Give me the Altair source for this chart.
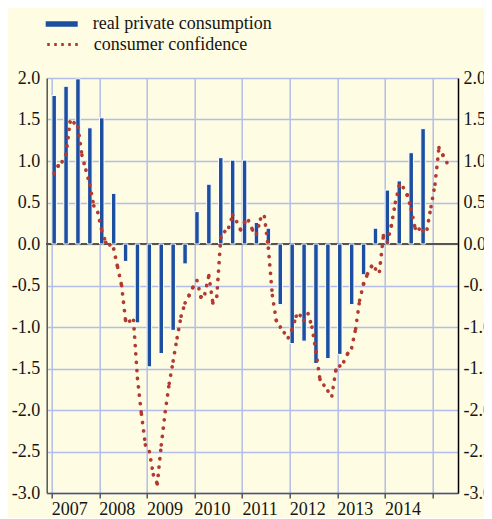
import altair as alt
import pandas as pd

# ---- data ----
years = [2007, 2008, 2009, 2010, 2011, 2012, 2013, 2014, 2015]
y_ticks = [-3.0, -2.5, -2.0, -1.5, -1.0, -0.5, 0.0, 0.5, 1.0, 1.5, 2.0]

# quarterly, 2007Q1 .. 2014Q4
consumption = [
    1.79, 1.90, 1.99, 1.40,
    1.52, 0.61, -0.21, -0.95,
    -1.48, -1.32, -1.04, -0.24,
    0.39, 0.72, 1.04, 1.01,
    1.01, 0.26, 0.19, -0.73,
    -1.20, -1.17, -1.44, -1.38,
    -1.33, -0.73, -0.37, 0.19,
    0.65, 0.76, 1.10, 1.39,
]

# monthly, Jan 2007 .. Apr 2015
confidence = [
    0.85, 0.94, 0.99, 1.08, 1.47, 1.46, 1.41, 1.07, 0.89, 0.71, 0.46, 0.38,
    0.16, 0.02, -0.01, -0.06, -0.28, -0.50, -0.92, -0.93, -0.92, -1.62, -2.05, -2.42,
    -2.50, -2.78, -2.89, -2.42, -2.02, -1.68, -1.41, -1.13, -0.87, -0.71, -0.62, -0.52,
    -0.44, -0.64, -0.60, -0.38, -0.71, -0.63, 0.08, 0.15, 0.20, 0.35, 0.27, 0.17,
    0.26, 0.28, 0.17, 0.12, 0.30, 0.33, -0.05, -0.62, -0.92, -1.00, -1.07, -1.13,
    -1.03, -0.87, -0.86, -0.92, -0.84, -1.00, -1.30, -1.63, -1.70, -1.77, -1.83, -1.52,
    -1.47, -1.42, -1.32, -1.25, -1.02, -0.68, -0.48, -0.36, -0.27, -0.30, -0.33, 0.10,
    0.02, 0.22, 0.50, 0.70, 0.68, 0.59, 0.42, 0.19, 0.18, 0.16, 0.18, 0.45,
    0.72, 1.16, 1.07, 0.98,
]

BAR_LABEL = "real private consumption"
LINE_LABEL = "consumer confidence"

BG = "#FEFCE2"
GRID = "#B4BDE9"
BLUE = "#1C4FA0"
RED = "#B23A30"
FONT = "Liberation Serif"
TXT = "#151515"

OFF = 0.62  # position of a month inside its slot
bar_df = pd.DataFrame({
    "t": [2007 + (3 * q + OFF) / 12 for q in range(len(consumption))],
    "v": consumption,
    "series": BAR_LABEL,
})
ts = [2007 + (m + OFF) / 12 for m in range(len(confidence))]
seg_df = pd.DataFrame({
    "t": ts[:-1], "t2": ts[1:],
    "v": confidence[:-1], "v2": confidence[1:],
    "series": LINE_LABEL,
})

x_scale = alt.Scale(domain=[2007, 2015.43], nice=False, zero=False)
y_scale = alt.Scale(domain=[-3, 2], nice=False, zero=False)

x_axis = alt.Axis(
    values=years, grid=True, gridColor=GRID, gridWidth=1.5,
    tickSize=5, tickColor="#555", tickWidth=1.5,
    domainColor="#555", domainWidth=1.5,
    labelOffset=17.5, labelExpr="datum.value < 2015 ? '' + datum.value : ''",
    labelFont=FONT, labelFontSize=18, labelColor=TXT, labelPadding=2,
    labelFlush=False, labelOverlap=False, title=None,
)
ylab = "(datum.value < 0 ? '-' : '') + format(abs(datum.value), '.1f')"
y_left = alt.Axis(
    orient="left", values=y_ticks, grid=True, gridColor=GRID, gridWidth=1.5,
    ticks=False, domainColor="#555", domainWidth=1.5,
    labelExpr=ylab, labelFont=FONT, labelFontSize=18, labelColor=TXT,
    labelPadding=7, labelFlush=False, labelOverlap=False, title=None,
)
y_right = alt.Axis(
    orient="right", values=y_ticks, grid=False,
    ticks=False, domainColor="#000", domainWidth=1.5,
    labelExpr=ylab, labelFont=FONT, labelFontSize=18, labelColor=TXT,
    labelPadding=5, labelFlush=False, labelOverlap=False, title=None,
)

zero = alt.Chart(bar_df).mark_rule(color="#555", strokeWidth=1.5).encode(
    y=alt.YDatum(0, scale=y_scale, axis=None)
)

bars = alt.Chart(bar_df).mark_bar(size=4.5, stroke="white", strokeWidth=1).encode(
    x=alt.X("t:Q", scale=x_scale, axis=x_axis),
    y=alt.Y("v:Q", scale=y_scale, axis=y_left),
    y2=alt.Y2Datum(0),
    color=alt.Color(
        "series:N",
        scale=alt.Scale(domain=[BAR_LABEL], range=[BLUE]),
        legend=alt.Legend(
            orient="none", legendX=-1, legendY=-70, title=None, padding=0,
            symbolType="M-1,-0.17L1,-0.17L1,0.17L-1,0.17Z", symbolSize=1024,
            symbolStrokeWidth=0, labelFont=FONT, labelFontSize=18,
            labelColor=TXT, labelOffset=15, labelLimit=400,
        ),
    ),
)

segs = alt.Chart(seg_df).mark_rule(
    strokeDash=[0.1, 8.3], strokeCap="round", strokeWidth=3.7
).encode(
    x=alt.X("t:Q", scale=x_scale, axis=x_axis),
    x2="t2:Q",
    y=alt.Y("v:Q", scale=y_scale, axis=y_right),
    y2="v2:Q",
    stroke=alt.Stroke(
        "series:N",
        scale=alt.Scale(domain=[LINE_LABEL], range=[RED]),
        legend=alt.Legend(
            orient="none", legendX=-1, legendY=-52, title=None, padding=0,
            symbolType="stroke", symbolSize=1156, symbolStrokeWidth=3,
            symbolDash=[2.6, 4.4], labelFont=FONT, labelFontSize=18,
            labelColor=TXT, labelOffset=11, labelLimit=400,
        ),
    ),
)

chart = (
    alt.layer(zero, bars, segs)
    .resolve_axis(y="independent")
    .properties(
        width=411.3, height=415,
        autosize=alt.AutoSizeParams(type="none"),
        padding={"left": 38.7, "top": 70, "right": 26, "bottom": 25},
        background=BG,
    )
    .configure_view(stroke=None)
)

chart.save("out.html", embed_options={"renderer": "svg", "actions": False})
